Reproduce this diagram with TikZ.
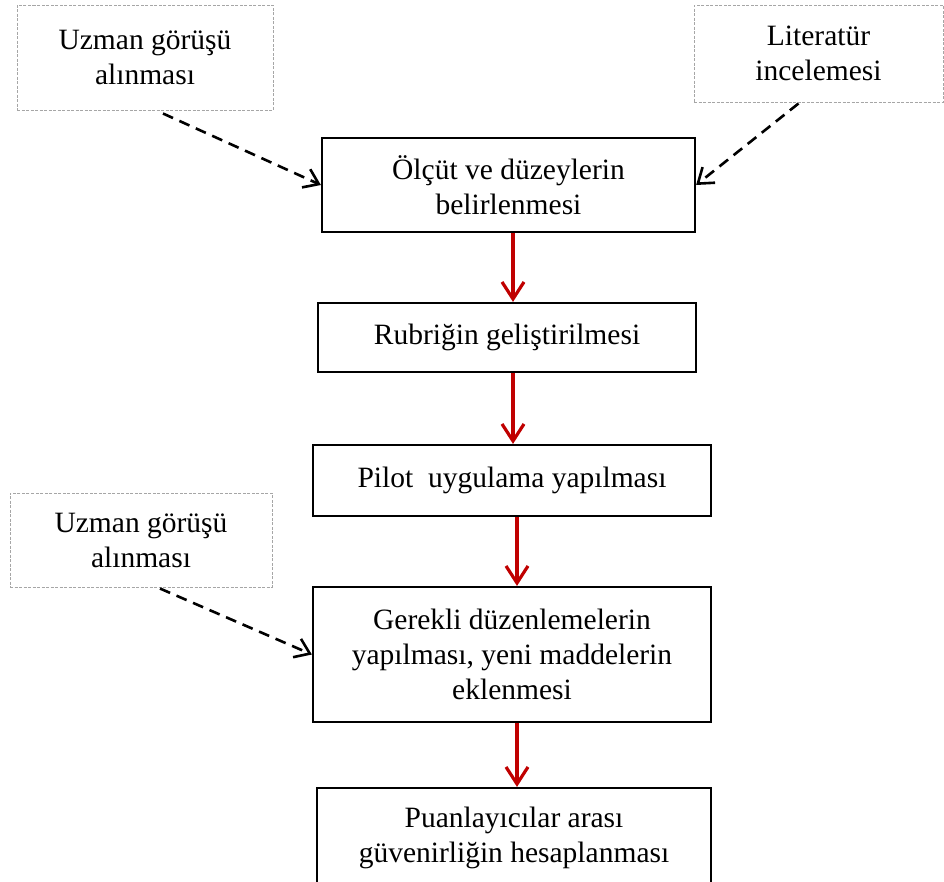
\documentclass[tikz,border=0pt]{standalone}
\usepackage{fontspec}
\setmainfont{Liberation Serif}
\usetikzlibrary{arrows.meta,calc}
\definecolor{flowred}{HTML}{C00000}
\definecolor{boxgray}{HTML}{A6A6A6}
\begin{document}
\begin{tikzpicture}[x=1pt,y=-1pt,
  every node/.style={font=\fontsize{29.5}{35}\selectfont, align=center, inner sep=0pt},
  srcbox/.style={draw=boxgray, line width=1pt, dash pattern=on 3pt off 1.5pt, rectangle},
  stepbox/.style={draw=black, line width=2.2pt, rectangle},
  flowarrow/.style={draw=flowred, line width=3.2pt, -{Straight Barb[length=17pt,width=22pt]}},
  inarrow/.style={draw=black, line width=2.6pt, dash pattern=on 11pt off 7pt, -{Straight Barb[length=14pt,width=20pt]}}
]
\useasboundingbox (0,0) rectangle (944,881);
\clip (0,0) rectangle (944,881);

\node[srcbox, minimum width=256pt, minimum height=105pt] (u1) at (145,57.5) {Uzman görüşü\\alınması};
\node[srcbox, minimum width=249pt, minimum height=97pt] (lit) at (818.5,53.5) {Literatür\\incelemesi};
\node[srcbox, minimum width=262pt, minimum height=94pt] (u2) at (141,540) {Uzman görüşü\\alınması};

\node[stepbox, minimum width=373pt, minimum height=94pt] (b1) at (508.5,185) {Ölçüt ve düzeylerin\\belirlenmesi};
\node[stepbox, minimum width=378pt, minimum height=69pt] (b2) at (507,337.5) {Rubriğin geliştirilmesi};
\node[stepbox, minimum width=398pt, minimum height=71pt] (b3) at (512,480.5) {Pilot~ uygulama yapılması};
\node[stepbox, minimum width=398pt, minimum height=135pt] (b4) at (512,654.5) {Gerekli düzenlemelerin\\yapılması, yeni maddelerin\\eklenmesi};
\node[stepbox, minimum width=394pt, minimum height=100pt] (b5) at (514,838) {Puanlayıcılar arası\\güvenirliğin hesaplanması};

\draw[flowarrow] ([xshift=4.5pt]b1.south) -- ([xshift=6pt]b2.north);
\draw[flowarrow] ([xshift=6pt]b2.south) -- ([xshift=1pt]b3.north);
\draw[flowarrow] ([xshift=5pt]b3.south) -- ([xshift=5pt]b4.north);
\draw[flowarrow] ([xshift=5pt]b4.south) -- ([xshift=3pt]b5.north);

\draw[inarrow] ([xshift=18pt,yshift=-3pt]u1.south) -- (b1.west);
\draw[inarrow] ([xshift=-20pt,yshift=-1pt]lit.south) -- (b1.east);
\draw[inarrow] ([xshift=19pt,yshift=-1pt]u2.south) -- (b4.west);
\end{tikzpicture}
\end{document}
